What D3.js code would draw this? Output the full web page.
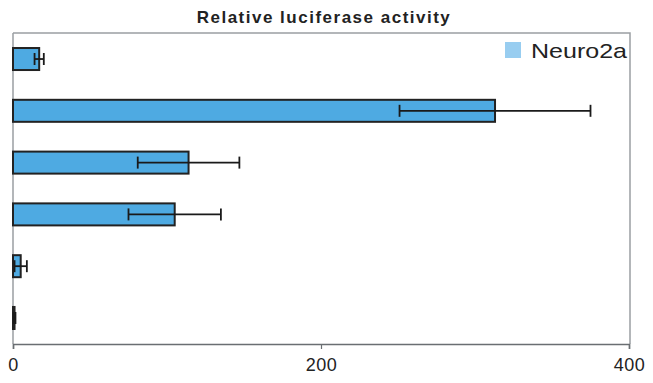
<!DOCTYPE html>
<html lang="en">
<head>
<meta charset="UTF-8">
<title>Relative luciferase activity</title>
<style>
  * { margin: 0; padding: 0; box-sizing: border-box; }
  body { background: #fff; width: 653px; height: 383px; overflow: hidden; font-family: 'Liberation Sans', Arial, sans-serif; }
  svg { display: block; }
</style>
</head>
<body>
<svg width="653" height="383"></svg>
<script src="https://d3js.org/d3.v7.min.js"></script>
<script>
// Data, top bar first
const constructs = ['c1', 'c2', 'c3', 'c4', 'c5', 'c6'];
const activity = [17, 313, 114, 105, 5, 1];
const errors = [3, 62, 33, 30, 4, 0.6];
const xTicks = [0, 200, 400];
const seriesName = 'Neuro2a';
const chartTitle = 'Relative luciferase activity';

const svg = d3.select('svg');
const plot = { left: 13, right: 629, top: 33, bottom: 344 };

const x = d3.scaleLinear().domain([0, 400]).range([plot.left, plot.right]);
const y = d3.scaleBand().domain(constructs).range([plot.top, plot.bottom]).paddingInner(0.575).paddingOuter(0.29);

// Frame (top and right, light gray)
svg.append('path')
  .attr('d', `M${plot.left},${plot.top}H${plot.right + 1}V${plot.bottom}`)
  .attr('fill', 'none').attr('stroke', '#9a9ea2').attr('stroke-width', 1.5);

// Left axis line
svg.append('line')
  .attr('x1', plot.left).attr('x2', plot.left)
  .attr('y1', plot.top).attr('y2', plot.bottom)
  .attr('stroke', '#9a9ea2').attr('stroke-width', 1.5);

// Bars
const data = constructs.map((c, i) => ({ c, v: activity[i], e: errors[i] }));
svg.append('g').selectAll('rect').data(data).enter().append('rect')
  .attr('x', x(0))
  .attr('y', d => y(d.c))
  .attr('width', d => x(d.v) - x(0))
  .attr('height', y.bandwidth())
  .attr('fill', '#4eaae2')
  .attr('stroke', '#222')
  .attr('stroke-width', 2);

// Error bars
const eb = svg.append('g').attr('stroke', '#1a1a1a').attr('stroke-width', 1.8);
data.forEach(d => {
  const cy = y(d.c) + y.bandwidth() / 2;
  const x0 = x(d.v - d.e), x1 = x(d.v + d.e);
  eb.append('line').attr('x1', x0).attr('x2', x1).attr('y1', cy).attr('y2', cy);
  eb.append('line').attr('x1', x0).attr('x2', x0).attr('y1', cy - 6).attr('y2', cy + 6);
  eb.append('line').attr('x1', x1).attr('x2', x1).attr('y1', cy - 6).attr('y2', cy + 6);
});

// Bottom axis
const xAxis = svg.append('g')
  .attr('transform', `translate(0,${plot.bottom})`)
  .call(d3.axisBottom(x).tickValues(xTicks).tickSize(5).tickPadding(9).tickFormat(d3.format('d')));
xAxis.select('.domain').attr('stroke', '#6a6e72').attr('stroke-width', 1.6);
xAxis.selectAll('.tick line').attr('stroke', '#6a6e72').attr('stroke-width', 1.2);
xAxis.selectAll('.tick text')
  .attr('font-family', "'Liberation Sans', Arial, sans-serif")
  .attr('font-size', 18).attr('letter-spacing', 0.5).attr('fill', '#222');

// Title
svg.append('text')
  .attr('x', 324).attr('y', 23)
  .attr('text-anchor', 'middle')
  .attr('font-size', 17).attr('font-weight', 'bold')
  .attr('letter-spacing', 1.5)
  .attr('fill', '#222')
  .text(chartTitle);

// Legend
svg.append('rect')
  .attr('x', 505).attr('y', 42).attr('width', 16).attr('height', 16)
  .attr('fill', '#98cdf0');
svg.append('text')
  .attr('x', 531).attr('y', 58)
  .attr('font-size', 21).attr('fill', '#222')
  .attr('textLength', 96).attr('lengthAdjust', 'spacingAndGlyphs')
  .text(seriesName);
</script>
</body>
</html>
